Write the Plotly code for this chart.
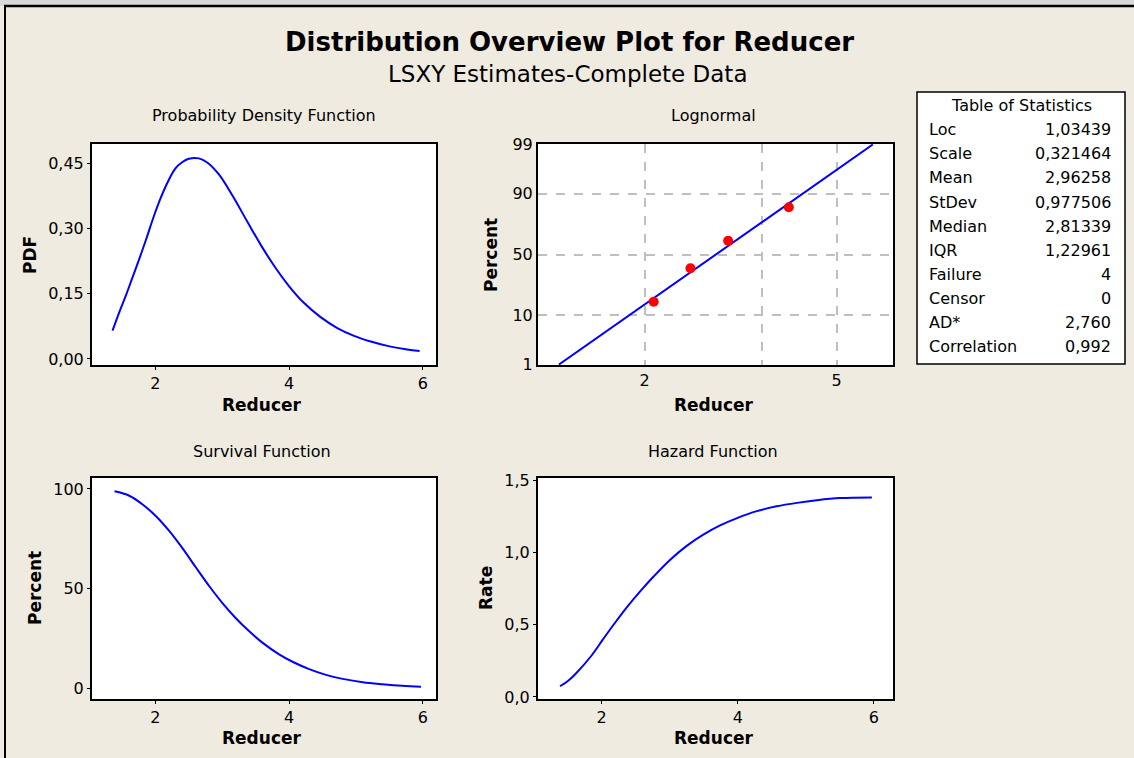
import plotly.graph_objects as go
from statistics import NormalDist

W, H = 1134, 758
BG = "#EFEBE1"
BLUE = "#0000FF"
RED = "#FF0000"
FONT = "DejaVu Sans"

# ─── Data ────────────────────────────────────────────
PDF_X = [1.36, 1.46, 1.56, 1.66, 1.76, 1.86, 1.98, 2.08, 2.18, 2.30, 2.40, 2.50,
         2.65, 2.78, 2.95, 3.15, 3.38, 3.58, 3.78, 4.00, 4.22, 4.47, 4.72, 4.97,
         5.22, 5.47, 5.72, 5.95]
PDF_Y = [0.065, 0.107, 0.146, 0.188, 0.230, 0.274, 0.329, 0.370, 0.405, 0.438,
         0.452, 0.460, 0.461, 0.451, 0.424, 0.376, 0.314, 0.261, 0.213, 0.167,
         0.129, 0.096, 0.071, 0.053, 0.040, 0.030, 0.023, 0.018]

# lognormal probability plot: fitted line and the four failures
FIT_X = [1.33, 2.81, 5.94]
FIT_P = [1, 50, 99]
FAIL_X = [2.09, 2.49, 2.98, 3.98]
FAIL_P = [15.9, 38.6, 61.4, 84.1]
PCT_TICKS = [1, 10, 50, 90, 99]

SURV_X = [1.39, 1.61, 1.81, 2.01, 2.21, 2.41, 2.61, 2.81, 3.00, 3.20, 3.40,
          3.60, 3.85, 4.05, 4.30, 4.55, 4.80, 5.10, 5.39, 5.69, 5.97]
SURV_Y = [98.8, 96.6, 92.2, 86.3, 78.8, 70.0, 60.4, 51.0, 42.8, 35.2, 28.6,
          22.8, 16.9, 13.2, 9.5, 6.6, 4.6, 2.9, 1.9, 1.1, 0.7]

HAZ_X = [1.39, 1.51, 1.63, 1.85, 2.02, 2.20, 2.37, 2.56, 2.76, 3.00, 3.25,
         3.50, 3.74, 3.99, 4.28, 4.57, 4.87, 5.16, 5.50, 5.97]
HAZ_Y = [0.074, 0.112, 0.166, 0.285, 0.398, 0.515, 0.620, 0.727, 0.831, 0.946,
         1.045, 1.124, 1.186, 1.237, 1.285, 1.318, 1.342, 1.360, 1.375, 1.380]

STAT_NAMES = ["Loc", "Scale", "Mean", "StDev", "Median", "IQR",
              "Failure", "Censor", "AD*", "Correlation"]
STAT_VALUES = ["1,03439", "0,321464", "2,96258", "0,977506", "2,81339",
               "1,22961", "4", "0", "2,760", "0,992"]


def px(x):
    return x / W


def py(y):
    return 1 - y / H


def z(p):
    # probability scale: percent -> standard normal quantile
    return NormalDist().inv_cdf(p / 100)


def axis(**kw):
    base = dict(
        showline=True, linecolor="black", linewidth=2, mirror=True,
        ticks="outside", ticklen=3, tickwidth=1, tickcolor="black",
        showgrid=False, zeroline=False, automargin=False,
        tickfont=dict(family=FONT, size=16, color="black"),
    )
    base.update(kw)
    return base


fig = go.Figure()

line = dict(color=BLUE, width=2)
fig.add_trace(go.Scatter(x=PDF_X, y=PDF_Y, mode="lines", line=line,
                         line_shape="spline", xaxis="x", yaxis="y"))
fig.add_trace(go.Scatter(x=FIT_X, y=[z(p) for p in FIT_P], mode="lines", line=line,
                         xaxis="x2", yaxis="y2"))
fig.add_trace(go.Scatter(x=FAIL_X, y=[z(p) for p in FAIL_P], mode="markers",
                         marker=dict(color=RED, size=10), xaxis="x2", yaxis="y2"))
fig.add_trace(go.Scatter(x=SURV_X, y=SURV_Y, mode="lines", line=line,
                         line_shape="spline", xaxis="x3", yaxis="y3"))
fig.add_trace(go.Scatter(x=HAZ_X, y=HAZ_Y, mode="lines", line=line,
                         line_shape="spline", xaxis="x4", yaxis="y4"))

left = [px(92), px(436)]
right = [px(538), px(893)]
top = [py(365), py(144)]
bottom = [py(699), py(478)]
grid = dict(showgrid=True, gridcolor="#BFBFBF", gridwidth=1.5, griddash="dash")

fig.update_layout(
    width=W, height=H,
    paper_bgcolor=BG, plot_bgcolor="white",
    margin=dict(l=0, r=0, t=0, b=0),
    showlegend=False,
    separators=",.",
    font=dict(family=FONT, color="black"),
    xaxis=axis(domain=left, range=[1.053, 6.195], tickvals=[2, 4, 6], anchor="y"),
    yaxis=axis(domain=top, range=[-0.014, 0.494], tickvals=[0, 0.15, 0.30, 0.45],
               tickformat=".2f", anchor="x"),
    xaxis2=axis(domain=right, type="log", range=[0.0805, 0.8156],
                tickvals=[2, 3.5, 5], ticktext=["2", "", "5"], ticks="",
                anchor="y2", **grid),
    yaxis2=axis(domain=top, range=[z(1) - 0.01, z(99) + 0.01],
                tickvals=[z(p) for p in PCT_TICKS], ticktext=[str(p) for p in PCT_TICKS],
                ticks="", anchor="x2", **grid),
    xaxis3=axis(domain=left, range=[1.053, 6.195], tickvals=[2, 4, 6], anchor="y3"),
    yaxis3=axis(domain=bottom, range=[-5.5, 105.5], tickvals=[0, 50, 100], anchor="x3"),
    xaxis4=axis(domain=right, range=[1.066, 6.28], tickvals=[2, 4, 6], anchor="y4"),
    yaxis4=axis(domain=bottom, range=[-0.014, 1.514], tickvals=[0, 0.5, 1.0, 1.5],
                tickformat=".1f", anchor="x4"),
)

# frame: grey strip on top, black border lines
fig.add_shape(type="rect", xref="paper", yref="paper", x0=0, x1=1, y0=py(6), y1=1,
              fillcolor="#D9D9D9", line_width=0, layer="below")
fig.add_shape(type="line", xref="paper", yref="paper", x0=px(4), x1=1, y0=py(6), y1=py(6),
              line=dict(color="black", width=2.5))
fig.add_shape(type="line", xref="paper", yref="paper", x0=px(5), x1=px(5), y0=0, y1=py(6),
              line=dict(color="black", width=2))

# statistics table box
fig.add_shape(type="rect", xref="paper", yref="paper", x0=px(917), x1=px(1125),
              y0=py(364), y1=py(92), fillcolor="white", line=dict(color="black", width=1.5))


def text(x, y, s, size=16, bold=False, anchor="center", angle=0):
    fig.add_annotation(
        x=px(x), y=py(y), xref="paper", yref="paper", text=f"<b>{s}</b>" if bold else s,
        showarrow=False, xanchor=anchor, yanchor="middle", textangle=angle,
        font=dict(family=FONT, size=size, color="black"),
    )


text(569, 42, "Distribution Overview Plot for Reducer", size=26, bold=True)
text(567, 74, "LSXY Estimates-Complete Data", size=23)

text(264, 116, "Probability Density Function")
text(713, 116, "Lognormal")
text(262, 451, "Survival Function")
text(713, 451, "Hazard Function")

for x, y in [(261, 405), (713, 405), (261, 738), (713, 738)]:
    text(x, y, "Reducer", size=17, bold=True)
text(30, 255, "PDF", size=17, bold=True, angle=-90)
text(491, 255, "Percent", size=17, bold=True, angle=-90)
text(35, 588, "Percent", size=17, bold=True, angle=-90)
text(486, 588, "Rate", size=17, bold=True, angle=-90)

text(1021, 105, "Table of Statistics")
for i, (name, val) in enumerate(zip(STAT_NAMES, STAT_VALUES)):
    y = 130 + i * 24
    text(927, y, name, anchor="left")
    text(1113, y, val, anchor="right")

# page body has an 8px default margin; drop it so the figure sits at the window edge
fig.write_html("out.html", config={"displayModeBar": False},
               post_script="document.body.style.margin='0';")
